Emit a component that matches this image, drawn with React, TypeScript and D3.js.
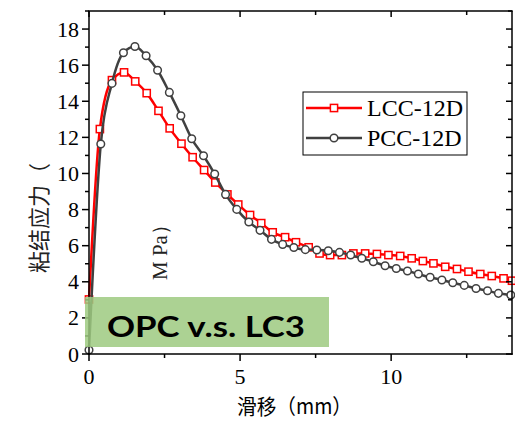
import React, { useEffect, useRef } from "react";
import * as d3 from "d3";

const lccX = [0, 0.36, 0.76, 1.16, 1.53, 1.91, 2.30, 2.67, 3.06, 3.43, 3.81, 4.18, 4.58, 4.94, 5.33, 5.70, 6.08, 6.49, 6.85, 7.27, 7.63, 7.98, 8.37, 8.75, 9.14, 9.53, 9.91, 10.30, 10.68, 11.05, 11.40, 11.79, 12.18, 12.56, 12.95, 13.33, 13.72, 14.0];
const lccY = [3.02, 12.46, 15.17, 15.6, 15.1, 14.45, 13.47, 12.5, 11.65, 10.9, 10.19, 9.5, 8.84, 8.28, 7.7, 7.25, 6.74, 6.47, 6.19, 5.91, 5.57, 5.48, 5.48, 5.57, 5.57, 5.54, 5.48, 5.43, 5.3, 5.15, 5.02, 4.83, 4.71, 4.56, 4.43, 4.32, 4.19, 4.06];

const pccX = [0, 0.39, 0.76, 1.14, 1.52, 1.89, 2.27, 2.66, 3.04, 3.40, 3.79, 4.16, 4.52, 4.89, 5.29, 5.66, 6.04, 6.41, 6.78, 7.16, 7.54, 7.92, 8.29, 8.66, 9.03, 9.41, 9.80, 10.17, 10.54, 10.90, 11.29, 11.68, 12.04, 12.42, 12.81, 13.19, 13.55, 13.96];
const pccY = [0.22, 11.63, 14.99, 16.69, 17.03, 16.52, 15.72, 14.49, 13.2, 11.92, 10.98, 9.97, 8.84, 8.01, 7.31, 6.85, 6.35, 6.07, 5.9, 5.78, 5.76, 5.72, 5.63, 5.48, 5.3, 5.11, 4.89, 4.74, 4.6, 4.43, 4.25, 4.1, 3.95, 3.8, 3.63, 3.5, 3.36, 3.27];

const xMajor = [0, 5, 10];
const xMinor = [2.5, 7.5, 12.5];
const yMajor = [0, 2, 4, 6, 8, 10, 12, 14, 16, 18];
const yAll = d3.range(0, 20, 1);

const seriesNames = ["LCC-12D", "PCC-12D"];
const xTitle = "滑移（mm）";
const yTitleA = "粘结应力（";
const yTitleB = "M Pa）";
const boxText = "OPC v.s. LC3";

const W = 515, H = 423;
const L = 89, R = 512, T = 11, B = 354;
const RED = "#ff0000";
const GRAY = "#404040";

export default function App() {
  const ref = useRef<SVGSVGElement>(null);
  useEffect(() => {
    const svg = d3.select(ref.current);
    svg.selectAll("*").remove();
    const x = d3.scaleLinear().domain([0, 14]).range([L, R]);
    const y = d3.scaleLinear().domain([0, 19]).range([B, T]);
    const serif = "'Liberation Serif', 'Times New Roman', serif";

    const plot = svg.append("g");
    const clipId = "clipPlot";
    svg.append("defs").append("clipPath").attr("id", clipId)
      .append("rect").attr("x", L - 6).attr("y", T).attr("width", R - L + 12).attr("height", B - T + 6);

    const line = d3.line<number>().curve(d3.curveMonotoneX);

    const series = [
      { xs: lccX, ys: lccY, color: RED, shape: "square" },
      { xs: pccX, ys: pccY, color: GRAY, shape: "circle" },
    ];
    series.forEach((s) => {
      const g = plot.append("g").attr("clip-path", `url(#${clipId})`);
      const pts = s.xs.map((v, i) => [x(v), y(s.ys[i])] as [number, number]);
      g.append("path")
        .attr("d", d3.line().curve(d3.curveMonotoneX)(pts))
        .attr("fill", "none").attr("stroke", s.color).attr("stroke-width", 2.5);
      if (s.shape === "square") {
        g.selectAll("rect.m").data(pts).enter().append("rect")
          .attr("x", (p) => p[0] - 3.6).attr("y", (p) => p[1] - 3.6)
          .attr("width", 7.2).attr("height", 7.2)
          .attr("fill", "white").attr("stroke", s.color).attr("stroke-width", 1.5);
      } else {
        g.selectAll("circle.m").data(pts).enter().append("circle")
          .attr("cx", (p) => p[0]).attr("cy", (p) => p[1]).attr("r", 3.8)
          .attr("fill", "white").attr("stroke", s.color).attr("stroke-width", 1.5);
      }
    });

    // Axes frame
    const ax = svg.append("g").attr("stroke", "black").attr("stroke-width", 1.5);
    ax.append("line").attr("x1", L).attr("x2", L).attr("y1", T).attr("y2", B + 0.75);
    ax.append("line").attr("x1", R).attr("x2", R).attr("y1", T).attr("y2", B + 0.75);
    ax.append("line").attr("x1", L - 0.75).attr("x2", R + 0.75).attr("y1", T).attr("y2", T);
    ax.append("line").attr("x1", L - 0.75).attr("x2", R + 0.75).attr("y1", B).attr("y2", B);

    // x ticks
    xMajor.forEach((v) => {
      ax.append("line").attr("x1", x(v)).attr("x2", x(v)).attr("y1", B).attr("y2", B + 7);
      ax.append("line").attr("x1", x(v)).attr("x2", x(v)).attr("y1", T).attr("y2", T + 6);
    });
    xMinor.forEach((v) => {
      ax.append("line").attr("x1", x(v)).attr("x2", x(v)).attr("y1", B).attr("y2", B + 4);
      ax.append("line").attr("x1", x(v)).attr("x2", x(v)).attr("y1", T).attr("y2", T + 4);
    });
    yAll.forEach((v) => {
      const major = v % 2 === 0;
      ax.append("line").attr("x1", L - (major ? 7 : 4)).attr("x2", L).attr("y1", y(v)).attr("y2", y(v));
      ax.append("line").attr("x1", R - (major ? 6 : 4)).attr("x2", R).attr("y1", y(v)).attr("y2", y(v));
    });

    // tick labels
    svg.append("g").selectAll("text").data(xMajor).enter().append("text")
      .attr("x", (v) => x(v)).attr("y", 384).attr("text-anchor", "middle")
      .attr("font-family", serif).attr("font-size", 22).text((v) => String(v));
    svg.append("g").selectAll("text").data(yMajor).enter().append("text")
      .attr("x", 79).attr("y", (v) => y(v) + 7.5).attr("text-anchor", "end")
      .attr("font-family", serif).attr("font-size", 22).text((v) => String(v));

    // axis titles
    const cjk = "'Noto Sans CJK SC', sans-serif";
    svg.append("text").attr("x", 294.5).attr("y", 414).attr("text-anchor", "middle")
      .attr("font-family", cjk).attr("font-size", 21).attr("textLength", 115)
      .attr("lengthAdjust", "spacingAndGlyphs").text(xTitle);
    svg.append("text").attr("transform", "translate(47,273) rotate(-90)")
      .attr("font-family", cjk).attr("font-size", 22).attr("fill", "#222").text(yTitleA);
    svg.append("text").attr("transform", "translate(167,280) rotate(-90)")
      .attr("font-family", serif).attr("font-size", 21).attr("fill", "#222").text(yTitleB);

    // legend
    const lg = svg.append("g");
    lg.append("rect").attr("x", 303).attr("y", 92).attr("width", 164).attr("height", 63)
      .attr("fill", "white").attr("stroke", "black").attr("stroke-width", 1);
    const legY = [108, 138];
    series.forEach((s, i) => {
      lg.append("line").attr("x1", 306).attr("x2", 362).attr("y1", legY[i]).attr("y2", legY[i])
        .attr("stroke", s.color).attr("stroke-width", 2.5);
      if (s.shape === "square") {
        lg.append("rect").attr("x", 334 - 3.6).attr("y", legY[i] - 3.6).attr("width", 7.2).attr("height", 7.2)
          .attr("fill", "white").attr("stroke", s.color).attr("stroke-width", 1.5);
      } else {
        lg.append("circle").attr("cx", 334).attr("cy", legY[i]).attr("r", 3.8)
          .attr("fill", "white").attr("stroke", s.color).attr("stroke-width", 1.5);
      }
      lg.append("text").attr("x", 367).attr("y", legY[i] + 8).attr("font-family", serif)
        .attr("font-size", 24).text(seriesNames[i]);
    });

    // green annotation box
    svg.append("rect").attr("x", 85).attr("y", 297).attr("width", 244).attr("height", 50)
      .attr("fill", "#9dca80").attr("opacity", 0.85);
    svg.append("text").attr("x", 107).attr("y", 337).attr("font-family", "Lato, 'Open Sans', sans-serif")
      .attr("font-weight", "bold").attr("font-size", 29).attr("textLength", 198)
      .attr("lengthAdjust", "spacingAndGlyphs").text(boxText);
  }, []);
  return (
    <svg ref={ref} width={W} height={H} style={{ position: "absolute", left: 0, top: 0, background: "white" }} />
  );
}
